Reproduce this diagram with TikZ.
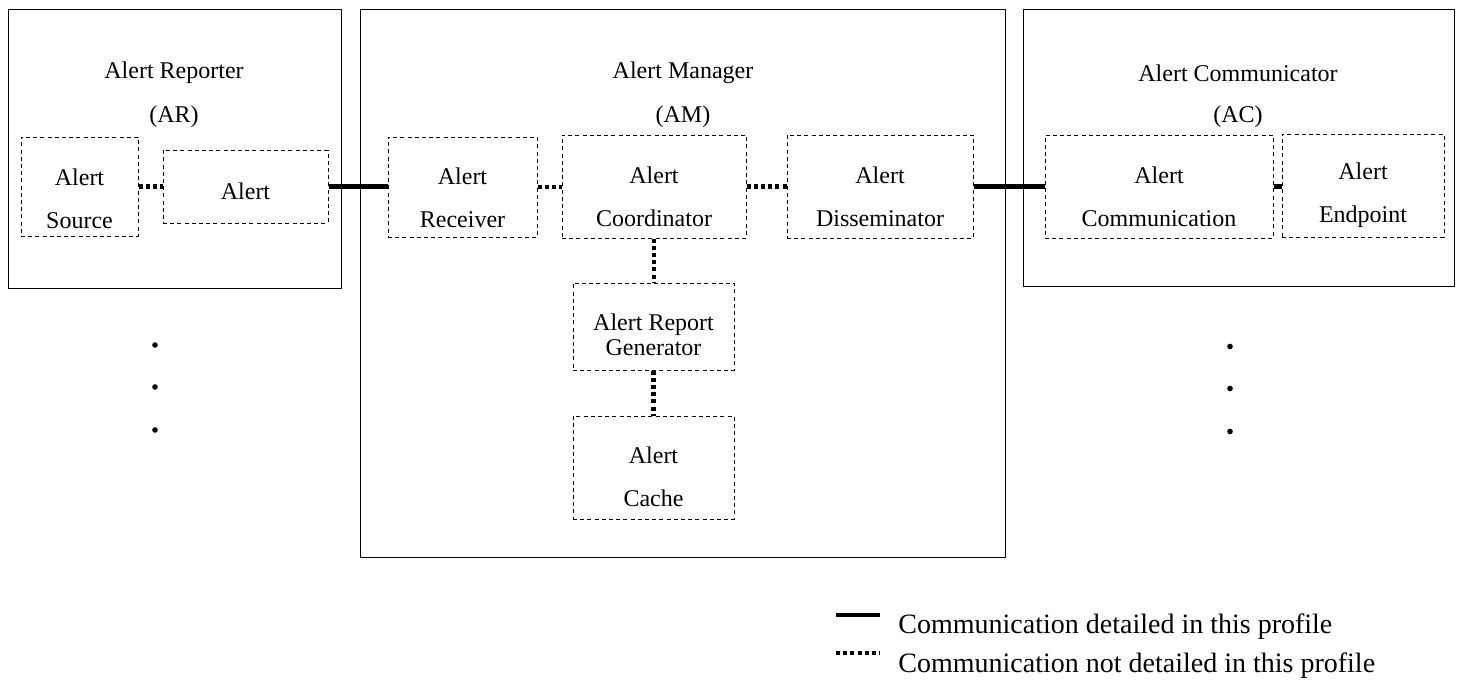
\documentclass[tikz,border=0pt]{standalone}
\usepackage{fontspec}
\setmainfont{Liberation Serif}
\usepackage{tikz}
\usetikzlibrary{arrows,positioning}
\tikzset{font=\fontsize{12}{21.5}\selectfont}
\tikzset{every node/.append style={transform shape=false}}
\tikzset{
  entity/.style={draw, line width=.5pt, inner sep=0pt},
  comp/.style={draw, line width=.5pt, dash pattern=on 2pt off 1.6pt, inner sep=0pt},
  txt/.style={align=center, inner sep=0pt},
  detailed/.style={line width=2.4pt},
  notdetailed/.style={line width=2.4pt, dash pattern=on 2pt off 1.6pt},
  dot/.style={circle, fill, inner sep=0pt, minimum size=2.8pt}
}

\begin{document}
\begin{tikzpicture}[x=.5pt,y=-.5pt]
\useasboundingbox (0,0) rectangle (1462,686);
% entities
\node[entity, minimum width=166.5pt, minimum height=139.5pt] (ar) at (174.5,148.5) {};
\node[entity, minimum width=322.5pt, minimum height=274pt] (am) at (682.5,283) {};
\node[entity, minimum width=215.5pt, minimum height=138.5pt] (ac) at (1238.5,147.5) {};
\node[txt] (arT) at (174,73) {Alert Reporter};
\node[txt] (arA) at (174,117) {(AR)};
\node[txt] (amT) at (683,73) {Alert Manager};
\node[txt] (amA) at (683,117) {(AM)};
\node[txt] (acT) at (1238,73) {Alert Communicator};
\node[txt] (acA) at (1238,117) {(AC)};
% components
\node[comp, minimum width=58.5pt, minimum height=49.5pt] (src) at (79.5,186.5) {};
\node[comp, minimum width=82.5pt, minimum height=36.5pt] (alrt) at (245.5,186.5) {};
\node[comp, minimum width=74.5pt, minimum height=50pt] (rcv) at (462.5,187) {};
\node[comp, minimum width=92pt, minimum height=51.5pt] (crd) at (654,186.5) {};
\node[comp, minimum width=93pt, minimum height=51.5pt] (dis) at (880,186.5) {};
\node[comp, minimum width=80.5pt, minimum height=43.5pt] (gen) at (653.5,326.5) {};
\node[comp, minimum width=80.5pt, minimum height=51.5pt] (cch) at (653.5,467.5) {};
\node[comp, minimum width=114pt, minimum height=51.5pt] (com) at (1159,186.5) {};
\node[comp, minimum width=81pt, minimum height=51.5pt] (endp) at (1363,185.5) {};
\node[txt] (srcT) at (79.5,199) {Alert\\Source};
\node[txt] (alrtT) at (245.5,191) {Alert};
\node[txt] (rcvT) at (462.5,198) {Alert\\Receiver};
\node[txt] (crdT) at (654,197) {Alert\\Coordinator};
\node[txt] (disT) at (880,197) {Alert\\Disseminator};
\node[txt, font=\fontsize{12}{12.5}\selectfont] (genT) at (653.5,335) {Alert Report\\Generator};
\node[txt] (cchT) at (653.5,477) {Alert\\Cache};
\node[txt] (comT) at (1159,197) {Alert\\Communication};
\node[txt] (endT) at (1363,195) {Alert\\Endpoint};
% connectors
\draw[notdetailed] (src.east) -- (src.east -| alrt.west);
\draw[detailed] (alrt.east) -- (alrt.east -| rcv.west);
\draw[notdetailed] (rcv.east) -- (rcv.east -| crd.west);
\draw[notdetailed] (crd.east) -- (dis.west);
\draw[detailed] (dis.east) -- (com.west);
\draw[detailed] (com.east) -- (com.east -| endp.west);
\draw[notdetailed] (crd.south) -- (crd.south |- gen.north);
\draw[notdetailed] (gen.south) -- (cch.north);
% more reporters / communicators
\foreach \y [count=\i] in {345,387,430}{
  \node[dot] (ldot\i) at (155,\y) {};
  \node[dot] (rdot\i) at (1230,\y+1.5) {};
}
% legend
\coordinate (solA) at (836,615);
\coordinate (solB) at (880,615);
\coordinate (dotA) at (836,653);
\coordinate (dotB) at (880,653);
\draw[detailed] (solA) -- (solB);
\draw[notdetailed] (dotA) -- (dotB);
\node[anchor=west, inner sep=0pt, font=\fontsize{14}{16}\selectfont] (legA) at (898,627) {Communication detailed in this profile};
\node[anchor=west, inner sep=0pt, font=\fontsize{14}{16}\selectfont] (legB) at (898,666) {Communication not detailed in this profile};
\end{tikzpicture}
\end{document}
